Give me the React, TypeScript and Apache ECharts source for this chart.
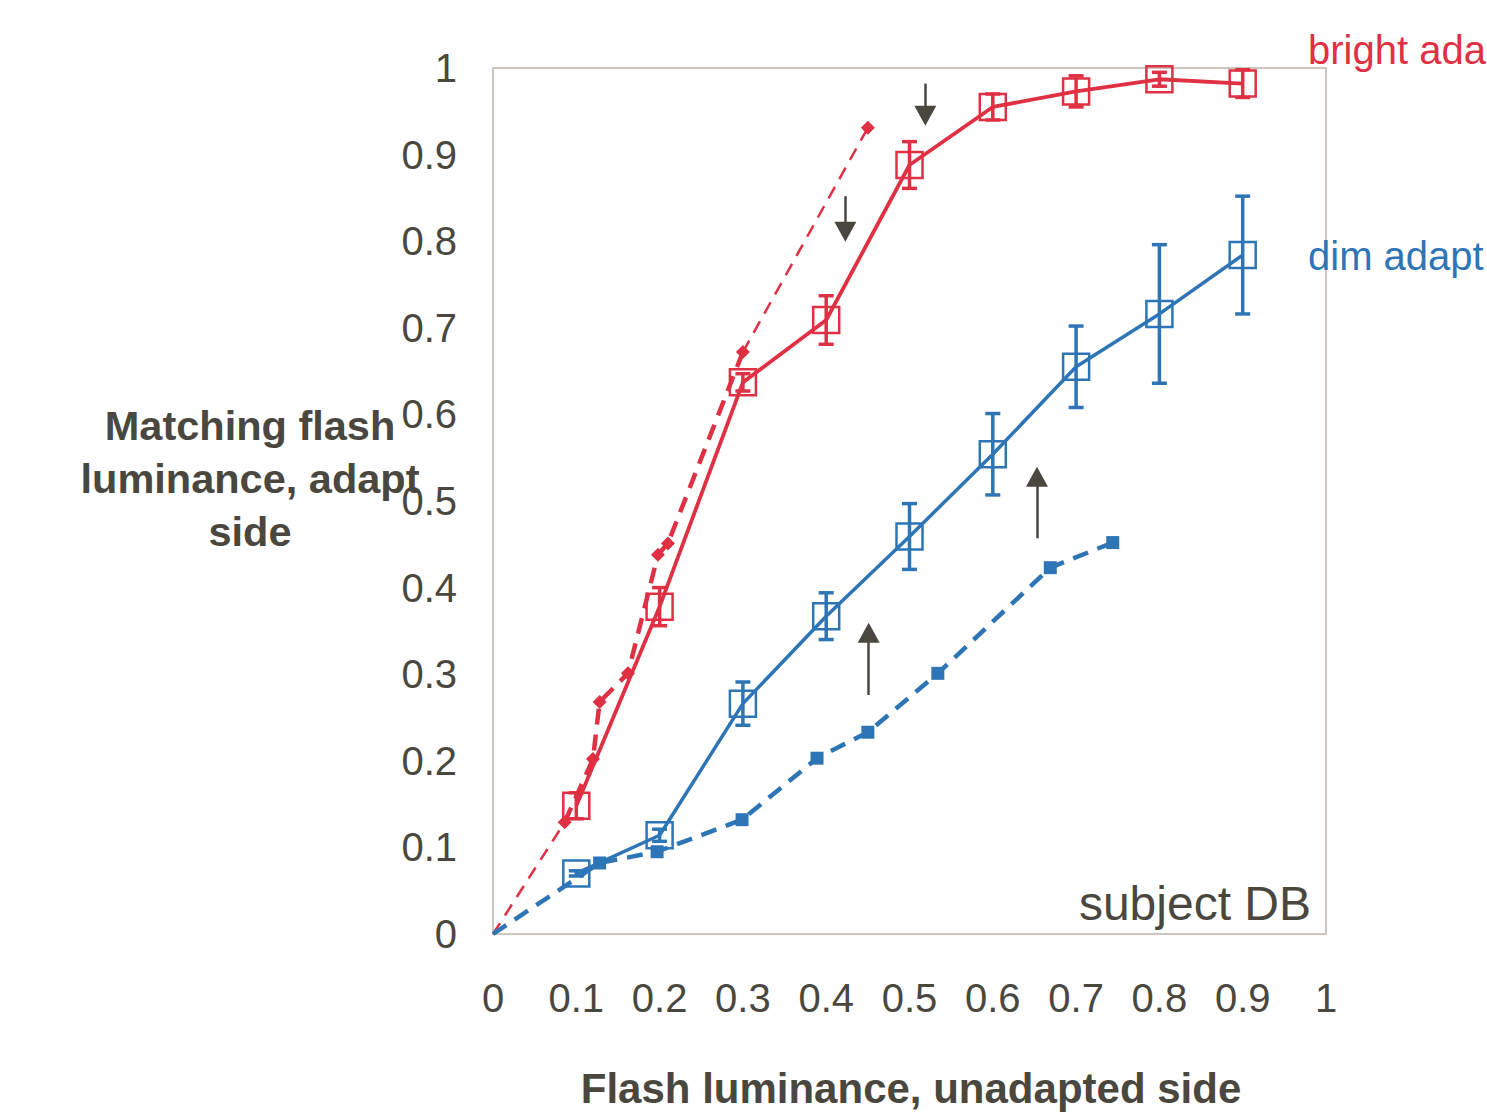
import React, { useEffect, useRef } from "react";
import * as echarts from "echarts";

const RED = "#E03043";
const BLUE = "#2E75B6";
const GRAY = "#4A473F";
const BORDER = "#CCC6BF";
const FONT = "'Liberation Sans', Arial, sans-serif";

// x levels of the flash on the unadapted side
const xLevels = [0.1, 0.2, 0.3, 0.4, 0.5, 0.6, 0.7, 0.8, 0.9];
// bright adapt: mean matching luminance and error
const brightMean = [0.148, 0.378, 0.637, 0.709, 0.888, 0.955, 0.973, 0.987, 0.982];
const brightErr = [0.015, 0.022, 0.010, 0.028, 0.027, 0.015, 0.018, 0.008, 0.016];
// dim adapt: mean matching luminance and error
const dimMean = [0.070, 0.114, 0.266, 0.367, 0.459, 0.554, 0.655, 0.716, 0.784];
const dimErr = [0.003, 0.007, 0.025, 0.027, 0.038, 0.047, 0.047, 0.080, 0.068];

// red dashed (thick) points
const redDashX = [0.086, 0.120, 0.128, 0.162, 0.198, 0.210, 0.300];
const redDashY = [0.129, 0.202, 0.268, 0.301, 0.438, 0.451, 0.672];
// red thin dashed extensions
const redThinLowX = [0, 0.086];
const redThinLowY = [0, 0.129];
const redThinHighX = [0.300, 0.450];
const redThinHighY = [0.672, 0.931];

// blue dashed points
const blueDashX = [0, 0.128, 0.197, 0.299, 0.389, 0.450, 0.534, 0.669, 0.744];
const blueDashY = [0, 0.082, 0.095, 0.132, 0.203, 0.233, 0.301, 0.423, 0.452];

// arrows: [x, yStart, yHeadCenter]
const arrowX = [0.519, 0.423, 0.451, 0.653];
const arrowFrom = [0.982, 0.852, 0.276, 0.457];
const arrowTo = [0.945, 0.811, 0.348, 0.528];

const zip = (xs: number[], ys: number[]) => xs.map((x, i) => [x, ys[i]]);

function errorBars(color: string, means: number[], errs: number[]) {
  return {
    type: "custom",
    z: 4,
    silent: true,
    data: xLevels.map((x, i) => [x, means[i], errs[i]]),
    encode: { x: 0, y: 1 },
    renderItem: (params: any, api: any) => {
      const x = api.value(0);
      const y = api.value(1);
      const e = api.value(2);
      const top = api.coord([x, y + e]);
      const bot = api.coord([x, y - e]);
      const hw = 7.5;
      const st = { stroke: color, lineWidth: 3.5 };
      return {
        type: "group",
        children: [
          { type: "line", shape: { x1: top[0], y1: top[1], x2: bot[0], y2: bot[1] }, style: st },
          { type: "line", shape: { x1: top[0] - hw, y1: top[1], x2: top[0] + hw, y2: top[1] }, style: st },
          { type: "line", shape: { x1: bot[0] - hw, y1: bot[1], x2: bot[0] + hw, y2: bot[1] }, style: st },
        ],
      };
    },
  };
}

export default function App() {
  const ref = useRef<HTMLDivElement>(null);
  useEffect(() => {
    if (!ref.current) return;
    const chart = echarts.init(ref.current, undefined, { renderer: "svg" });
    const labelFmt = (v: number) => String(Math.round(v * 10) / 10);
    const option: any = {
      animation: false,
      backgroundColor: "#ffffff",
      grid: {
        left: 493,
        top: 68,
        width: 833,
        height: 866,
        show: true,
        borderColor: BORDER,
        borderWidth: 2,
        backgroundColor: "transparent",
      },
      xAxis: {
        type: "value",
        min: 0,
        max: 1,
        interval: 0.1,
        axisLine: { show: false },
        axisTick: { show: false },
        splitLine: { show: false },
        axisLabel: {
          color: GRAY,
          fontSize: 40,
          fontFamily: FONT,
          margin: 44,
          formatter: labelFmt,
        },
      },
      yAxis: {
        type: "value",
        min: 0,
        max: 1,
        interval: 0.1,
        axisLine: { show: false },
        axisTick: { show: false },
        splitLine: { show: false },
        axisLabel: {
          color: GRAY,
          fontSize: 40,
          fontFamily: FONT,
          margin: 36,
          formatter: labelFmt,
        },
      },
      graphic: [
        {
          type: "text",
          left: 1308,
          top: 30,
          style: { text: "bright ada", fill: RED, font: `40px ${FONT}` },
        },
        {
          type: "text",
          left: 1308,
          top: 236,
          style: { text: "dim adapt", fill: BLUE, font: `40px ${FONT}` },
        },
        {
          type: "text",
          x: 1311,
          y: 903,
          style: {
            text: "subject DB",
            fill: GRAY,
            font: `48px ${FONT}`,
            align: "right",
            verticalAlign: "middle",
          },
        },
        {
          type: "text",
          x: 250,
          y: 478,
          style: {
            text: "Matching flash\nluminance, adapt\nside",
            fill: GRAY,
            font: `bold 41.5px ${FONT}`,
            lineHeight: 53,
            align: "center",
            verticalAlign: "middle",
          },
        },
        {
          type: "text",
          x: 911,
          y: 1088,
          style: {
            text: "Flash luminance, unadapted side",
            fill: GRAY,
            font: `bold 42px ${FONT}`,
            align: "center",
            verticalAlign: "middle",
          },
        },
      ],
      series: [
        {
          type: "line",
          name: "red thin low",
          data: zip(redThinLowX, redThinLowY),
          showSymbol: false,
          symbol: "none",
          lineStyle: { color: RED, width: 2.5, type: [13, 9] },
          z: 2,
        },
        {
          type: "line",
          name: "red thin high",
          data: zip(redThinHighX, redThinHighY).map((p, i) => ({
            value: p,
            symbol: i === 0 ? "none" : "diamond",
          })),
          symbol: "diamond",
          symbolSize: 14,
          itemStyle: { color: RED },
          lineStyle: { color: RED, width: 2.5, type: [13, 9] },
          z: 2,
        },
        {
          type: "line",
          name: "red dashed",
          data: zip(redDashX, redDashY),
          symbol: "diamond",
          symbolSize: 14,
          itemStyle: { color: RED },
          lineStyle: { color: RED, width: 4.5, type: [16, 10] },
          z: 2,
        },
        {
          type: "line",
          name: "blue dashed",
          data: zip(blueDashX, blueDashY).map((p, i) => ({
            value: p,
            symbol: i === 0 ? "none" : "rect",
          })),
          symbol: "rect",
          symbolSize: 13,
          itemStyle: { color: BLUE },
          lineStyle: { color: BLUE, width: 4.5, type: [16, 10] },
          z: 2,
          markLine: {
            silent: true,
            symbol: ["none", "triangle"],
            symbolSize: [22, 20],
            label: { show: false },
            lineStyle: { color: GRAY, width: 2.5, type: "solid" },
            data: arrowX.map((x, i) => [
              { coord: [x, arrowFrom[i]] },
              { coord: [x, arrowTo[i]] },
            ]),
          },
        },
        {
          type: "line",
          name: "bright adapt",
          data: zip(xLevels, brightMean),
          symbol: "rect",
          symbolSize: 26,
          itemStyle: { color: "rgba(0,0,0,0)", borderColor: RED, borderWidth: 2.5 },
          lineStyle: { color: RED, width: 3.8 },
          z: 3,
        },
        {
          type: "line",
          name: "dim adapt",
          data: zip(xLevels, dimMean),
          symbol: "rect",
          symbolSize: 26,
          itemStyle: { color: "rgba(0,0,0,0)", borderColor: BLUE, borderWidth: 2.5 },
          lineStyle: { color: BLUE, width: 3.5 },
          z: 3,
        },
        errorBars(RED, brightMean, brightErr),
        errorBars(BLUE, dimMean, dimErr),
      ],
    };
    chart.setOption(option);
    return () => chart.dispose();
  }, []);
  return (
    <div
      ref={ref}
      style={{ position: "fixed", left: 0, top: 0, width: 1487, height: 1115 }}
    />
  );
}
